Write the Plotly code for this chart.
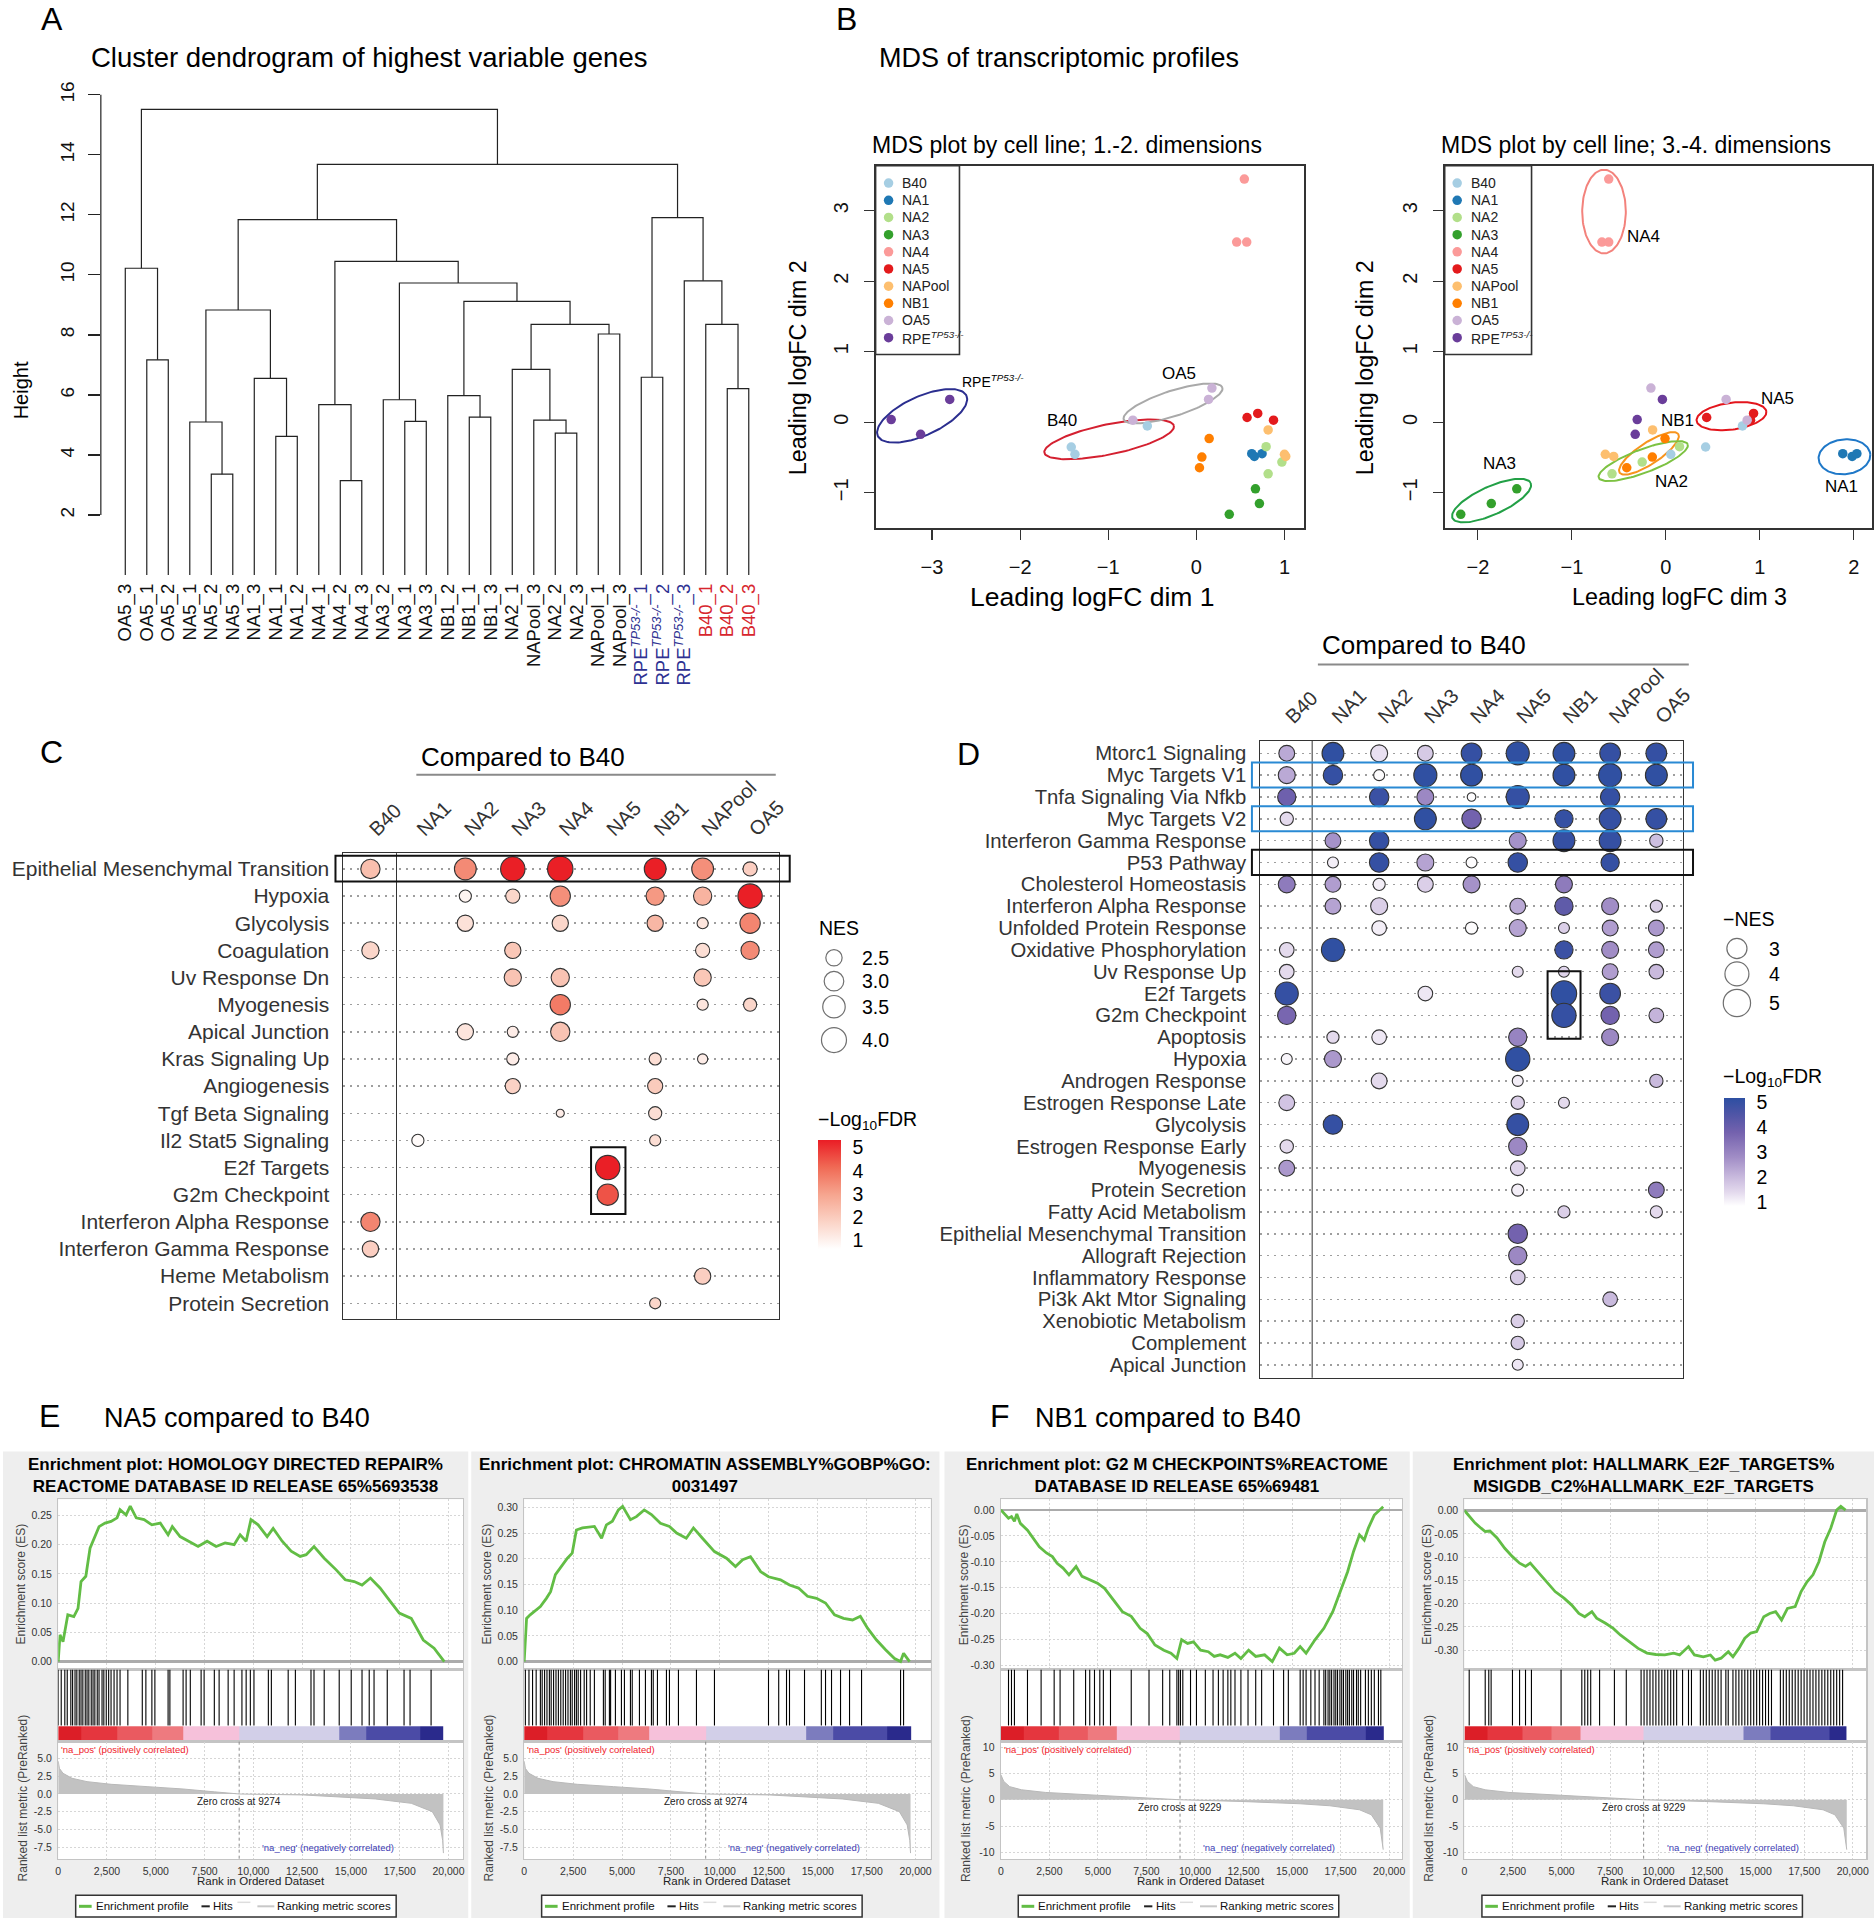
import math
import plotly.graph_objects as go

W, H = 1874, 1920          # reference coordinate frame (px)
FIG_W = 1886               # rendered page width (the photo is resized back to 1874)
FONT = "Liberation Sans, Arial, Helvetica, sans-serif"

# ======================= DATA =======================
# ---- A: dendrogram ----
LEAF_LABELS = ["OA5_3", "OA5_1", "OA5_2", "NA5_1", "NA5_2", "NA5_3", "NA1_3", "NA1_1", "NA1_2",
               "NA4_1", "NA4_2", "NA4_3", "NA3_2", "NA3_1", "NA3_3", "NB1_2", "NB1_1", "NB1_3",
               "NA2_1", "NAPool_3", "NA2_2", "NA2_3", "NAPool_1", "NAPool_3",
               "RPE_1", "RPE_2", "RPE_3", "B40_1", "B40_2", "B40_3"]
MERGE_A = [1, 0, 4, 3, 7, 6, 33, 10, 9, 13, 12, 16, 15, 20, 19, 18, 22, 45, 42, 40, 38, 36, 24, 28, 27, 26, 52, 51, 31]
MERGE_B = [2, 30, 5, 32, 8, 34, 35, 11, 37, 14, 39, 17, 41, 21, 43, 44, 23, 46, 47, 48, 49, 50, 25, 29, 53, 54, 55, 56, 57]
MERGE_H = [7.17, 10.22, 3.36, 5.10, 4.62, 6.55, 8.83, 3.15, 5.68, 5.12, 5.84, 5.26, 5.98, 4.73, 5.16, 6.85,
           8.03, 8.35, 9.12, 9.73, 10.45, 11.84, 6.59, 6.21, 8.35, 9.80, 11.91, 13.68, 15.51]
HEIGHT_TICKS = [2, 4, 6, 8, 10, 12, 14, 16]

# ---- B: MDS ----
MDS_GROUPS = ["B40", "NA1", "NA2", "NA3", "NA4", "NA5", "NAPool", "NB1", "OA5", "RPE"]
MDS_SAMPLE_GROUP = ["B40", "B40", "B40", "NA1", "NA1", "NA1", "NA2", "NA2", "NA2", "NA3", "NA3", "NA3",
                    "NA4", "NA4", "NA4", "NA5", "NA5", "NA5", "NAPool", "NAPool", "NAPool",
                    "NB1", "NB1", "NB1", "OA5", "OA5", "OA5", "RPE", "RPE", "RPE"]
MDS_DIM1 = [-1.420, -1.378, -0.557, 0.628, 0.658, 0.745, 0.791, 0.970, 0.814, 0.670, 0.715, 0.373,
            0.544, 0.457, 0.571, 0.575, 0.696, 0.875, 0.814, 0.999, 1.014, 0.145, 0.062, 0.035,
            0.176, 0.138, -0.721, -3.463, -2.799, -3.129]
MDS_DIM2 = [-0.350, -0.454, -0.051, -0.445, -0.483, -0.445, -0.345, -0.563, -0.730, -0.943, -1.152, -1.304,
            3.446, 2.554, 2.554, 0.068, 0.125, 0.030, -0.108, -0.454, -0.483, -0.231, -0.492, -0.644,
            0.485, 0.324, 0.030, 0.039, 0.324, -0.170]
MDS_DIM3 = [0.423, 0.052, 0.815, 1.882, 1.982, 2.032, 0.145, -0.252, -0.573, -1.586, -1.857, -2.182,
            -0.608, -0.680, -0.608, 0.434, 0.933, 0.901, -0.141, -0.644, -0.555, -0.009, -0.144, -0.416,
            -0.159, 0.641, 0.865, -0.305, -0.037, -0.326]

# ---- C: red dot plot ----
SAMPLES = ["B40", "NA1", "NA2", "NA3", "NA4", "NA5", "NB1", "NAPool", "OA5"]
C_PATHWAYS = ["Epithelial Mesenchymal Transition", "Hypoxia", "Glycolysis", "Coagulation", "Uv Response Dn",
              "Myogenesis", "Apical Junction", "Kras Signaling Up", "Angiogenesis", "Tgf Beta Signaling",
              "Il2 Stat5 Signaling", "E2f Targets", "G2m Checkpoint", "Interferon Alpha Response",
              "Interferon Gamma Response", "Heme Metabolism", "Protein Secretion"]
C_ROW = [0, 0, 0, 0, 0, 0, 0, 1, 1, 1, 1, 1, 1, 2, 2, 2, 2, 2, 3, 3, 3, 3, 4, 4, 4, 5, 5, 5, 6, 6, 6,
         7, 7, 7, 8, 8, 9, 9, 10, 10, 11, 12, 13, 14, 15, 16]
C_COL = ["B40", "NA2", "NA3", "NA4", "NB1", "NAPool", "OA5",
         "NA2", "NA3", "NA4", "NB1", "NAPool", "OA5",
         "NA2", "NA4", "NB1", "NAPool", "OA5",
         "B40", "NA3", "NAPool", "OA5",
         "NA3", "NA4", "NAPool",
         "NA4", "NAPool", "OA5",
         "NA2", "NA3", "NA4",
         "NA3", "NB1", "NAPool",
         "NA3", "NB1",
         "NA4", "NB1",
         "NA1", "NB1",
         "NA5", "NA5", "B40", "B40", "NAPool", "NB1"]
C_NES = [2.95, 3.38, 3.88, 4.09, 3.38, 3.38, 2.23,
         2.00, 2.23, 3.12, 2.79, 2.79, 3.88,
         2.50, 2.50, 2.50, 1.90, 3.12,
         2.64, 2.50, 2.23, 2.79,
         2.64, 2.79, 2.64,
         3.12, 1.90, 2.11,
         2.50, 1.90, 2.95,
         2.00, 2.00, 1.81,
         2.35, 2.35,
         1.64, 2.11,
         2.00, 1.90,
         3.88, 3.29, 2.95, 2.50, 2.50, 1.90]
C_LOGFDR = [2.3, 3.5, 5.3, 5.3, 5.3, 3.4, 1.9,
            0.9, 1.7, 3.4, 3.2, 2.6, 5.3,
            1.4, 1.7, 2.5, 1.3, 3.6,
            1.7, 2.1, 1.5, 3.5,
            2.2, 2.2, 2.1,
            3.8, 1.3, 1.7,
            1.3, 1.1, 2.2,
            1.1, 1.5, 1.1,
            1.8, 2.0,
            1.1, 1.5,
            0.7, 1.5,
            5.3, 4.5, 3.6, 1.9, 1.9, 1.7]
C_NES_LEGEND = [2.5, 3.0, 3.5, 4.0]

# ---- D: blue dot plot ----
D_PATHWAYS = ["Mtorc1 Signaling", "Myc Targets V1", "Tnfa Signaling Via Nfkb", "Myc Targets V2",
              "Interferon Gamma Response", "P53 Pathway", "Cholesterol Homeostasis", "Interferon Alpha Response",
              "Unfolded Protein Response", "Oxidative Phosphorylation", "Uv Response Up", "E2f Targets",
              "G2m Checkpoint", "Apoptosis", "Hypoxia", "Androgen Response", "Estrogen Response Late",
              "Glycolysis", "Estrogen Response Early", "Myogenesis", "Protein Secretion", "Fatty Acid Metabolism",
              "Epithelial Mesenchymal Transition", "Allograft Rejection", "Inflammatory Response",
              "Pi3k Akt Mtor Signaling", "Xenobiotic Metabolism", "Complement", "Apical Junction"]
D_ROW = [0] * 9 + [1] * 8 + [2] * 6 + [3] * 6 + [4] * 6 + [5] * 6 + [6] * 6 + [7] * 6 + [8] * 6 + [9] * 5 + \
        [10] * 5 + [11] * 4 + [12] * 4 + [13] * 4 + [14] * 3 + [15] * 3 + [16] * 3 + [17] * 2 + [18] * 2 + \
        [19] * 2 + [20] * 2 + [21] * 2 + [22, 23, 24, 25, 26, 27, 28]
D_COL = ["B40", "NA1", "NA2", "NA3", "NA4", "NA5", "NB1", "NAPool", "OA5",
         "B40", "NA1", "NA2", "NA3", "NA4", "NB1", "NAPool", "OA5",
         "B40", "NA2", "NA3", "NA4", "NA5", "NAPool",
         "B40", "NA3", "NA4", "NB1", "NAPool", "OA5",
         "NA1", "NA2", "NA5", "NB1", "NAPool", "OA5",
         "NA1", "NA2", "NA3", "NA4", "NA5", "NAPool",
         "B40", "NA1", "NA2", "NA3", "NA4", "NB1",
         "NA1", "NA2", "NA5", "NB1", "NAPool", "OA5",
         "NA2", "NA4", "NA5", "NB1", "NAPool", "OA5",
         "B40", "NA1", "NB1", "NAPool", "OA5",
         "B40", "NA5", "NB1", "NAPool", "OA5",
         "B40", "NA3", "NB1", "NAPool",
         "B40", "NB1", "NAPool", "OA5",
         "NA1", "NA2", "NA5", "NAPool",
         "B40", "NA1", "NA5",
         "NA2", "NA5", "OA5",
         "B40", "NA5", "NB1",
         "NA1", "NA5",
         "B40", "NA5",
         "B40", "NA5",
         "NA5", "OA5",
         "NB1", "OA5",
         "NA5", "NA5", "NA5", "NAPool", "NA5", "NA5", "NA5"]
D_NES = [2.10, 3.44, 2.32, 2.10, 3.15, 3.76, 3.44, 3.15, 3.15,
         2.32, 2.86, 1.31, 3.76, 3.44, 3.44, 3.76, 3.44,
         2.59, 2.86, 2.32, 1.02, 3.76, 2.86,
         1.66, 3.44, 2.86, 2.59, 3.44, 3.15,
         2.10, 2.86, 2.32, 3.44, 3.44, 1.66,
         1.31, 2.86, 2.32, 1.31, 2.86, 2.59,
         2.32, 2.10, 1.48, 2.10, 2.32, 2.32,
         2.10, 2.32, 2.10, 2.59, 2.32, 1.48,
         1.88, 1.48, 2.32, 1.31, 2.10, 2.10,
         1.88, 3.76, 2.59, 2.32, 2.10,
         1.88, 1.31, 1.31, 2.10, 1.88,
         3.76, 1.88, 4.44, 3.15,
         2.59, 4.10, 2.59, 1.88,
         1.48, 1.88, 2.59, 2.32,
         1.31, 2.32, 4.10,
         2.10, 1.31, 1.66,
         2.10, 1.66, 1.31,
         2.86, 3.44,
         1.66, 2.59,
         2.10, 1.88,
         1.48, 2.10,
         1.48, 1.48,
         2.86, 2.59, 1.88, 1.88, 1.66, 1.66, 1.31]
D_LOGFDR = [2.3, 5.1, 1.3, 1.7, 5.0, 5.1, 5.1, 5.0, 5.0,
            2.3, 5.0, 0.9, 5.1, 5.1, 5.1, 5.1, 5.1,
            3.9, 4.9, 2.9, 0.9, 5.0, 5.0,
            1.4, 5.1, 3.8, 5.0, 5.0, 5.0,
            2.7, 5.0, 2.7, 5.0, 5.0, 1.9,
            1.1, 5.0, 2.4, 0.9, 5.0, 5.0,
            3.2, 2.5, 1.1, 1.6, 2.7, 3.2,
            2.4, 1.6, 2.3, 4.2, 2.8, 1.6,
            1.1, 0.9, 2.4, 1.6, 2.5, 2.6,
            1.4, 5.1, 4.9, 2.8, 2.5,
            1.4, 1.4, 1.5, 2.5, 2.0,
            5.0, 1.2, 5.1, 4.9,
            3.7, 5.0, 3.8, 2.1,
            1.4, 1.2, 3.0, 2.9,
            1.0, 2.6, 5.1,
            1.4, 1.1, 2.0,
            1.8, 1.6, 1.4,
            5.0, 5.0,
            1.4, 2.9,
            2.6, 1.5,
            1.1, 3.2,
            1.6, 1.4,
            3.8, 2.9, 1.7, 2.0, 1.6, 1.7, 1.2]
D_NES_LEGEND = [3, 4, 5]

# ---- E / F: GSEA ----
E1_ES_RANK = [0, 92, 246, 492, 800, 1015, 1169, 1415, 1631, 1846, 2092, 2400, 2708, 3015, 3169, 3477, 3692, 4000,
              4400, 4800, 5231, 5631, 5846, 6246, 6708, 7169, 7631, 8092, 8554, 9015, 9323, 9631, 9877, 10246,
              10708, 11015, 11477, 11938, 12400, 12708, 13108, 13631, 14246, 14708, 15169, 15569, 16000, 16492,
              17015, 17477, 18092, 18708, 19262, 19785]
E1_ES = [0, 0.046, 0.034, 0.080, 0.077, 0.091, 0.137, 0.146, 0.194, 0.211, 0.231, 0.237, 0.240, 0.246, 0.260,
         0.251, 0.266, 0.246, 0.243, 0.234, 0.237, 0.217, 0.231, 0.214, 0.206, 0.197, 0.206, 0.197, 0.203, 0.200,
         0.217, 0.206, 0.243, 0.234, 0.214, 0.228, 0.206, 0.189, 0.180, 0.183, 0.197, 0.177, 0.157, 0.140, 0.137,
         0.131, 0.143, 0.126, 0.103, 0.083, 0.074, 0.037, 0.023, 0.0]
E1_HITS = [0, 154, 338, 462, 646, 738, 862, 954, 1077, 1169, 1262, 1385, 1477, 1569, 1692, 1785, 1877, 2000, 2092,
           2246, 2338, 2462, 2585, 2708, 2862, 3015, 3169, 3569, 4308, 4492, 4800, 4954, 5631, 5723, 6400, 6554,
           6769, 7323, 7477, 8000, 8246, 8708, 9015, 9415, 9631, 9846, 10031, 10769, 10923, 11785, 12154, 12954,
           13108, 13631, 14400, 15015, 15569, 15938, 16185, 16862, 17723, 18031, 19108]

E2_ES_RANK = [0, 123, 307, 521, 828, 1135, 1350, 1595, 1902, 2208, 2454, 2668, 2975, 3588, 3956, 4202, 4508, 4815,
              5030, 5429, 5735, 6134, 6502, 6962, 7422, 7790, 8281, 8649, 9109, 9722, 10336, 10796, 11164, 11563,
              12084, 12483, 13096, 13556, 14016, 14476, 14936, 15396, 15856, 16316, 16776, 17175, 17543, 18003,
              18463, 18923, 19230, 19384, 19690]
E2_ES = [0, 0.084, 0.091, 0.097, 0.107, 0.123, 0.136, 0.169, 0.185, 0.201, 0.211, 0.256, 0.260, 0.263, 0.240,
         0.266, 0.273, 0.295, 0.302, 0.276, 0.282, 0.295, 0.286, 0.269, 0.263, 0.250, 0.240, 0.260, 0.240, 0.214,
         0.201, 0.185, 0.198, 0.204, 0.175, 0.165, 0.159, 0.149, 0.143, 0.127, 0.123, 0.114, 0.091, 0.084, 0.081,
         0.088, 0.065, 0.042, 0.023, 0.006, 0.0, 0.016, 0.0]
E2_HITS = [61, 245, 429, 613, 828, 920, 1043, 1165, 1288, 1380, 1503, 1626, 1748, 1871, 1994, 2116, 2239, 2362,
           2454, 2576, 2668, 2760, 2883, 3067, 3190, 3374, 3588, 4048, 4140, 4355, 4416, 4662, 4969, 5122, 5429,
           5521, 5889, 6195, 6502, 6594, 6809, 7269, 7422, 7882, 8802, 9722, 12483, 13004, 13403, 13556, 14323,
           15182, 15396, 15703, 16163, 16623, 17237, 19230, 19384]

F1_ES_RANK = [0, 153, 397, 550, 702, 824, 1007, 1374, 1679, 1984, 2351, 2656, 2900, 3206, 3511, 3877, 4183, 4580,
              4976, 5343, 5801, 6259, 6717, 7175, 7541, 7938, 8396, 8762, 9068, 9312, 9617, 9923, 10289, 10686,
              10991, 11297, 11693, 12060, 12365, 12761, 13127, 13585, 13982, 14348, 14745, 15111, 15416, 15722,
              16180, 16638, 17096, 17493, 17860, 18165, 18470, 18715, 18928, 19234, 19539, 19692]
F1_ES = [0, -0.006, -0.016, -0.013, -0.022, -0.008, -0.026, -0.039, -0.055, -0.071, -0.083, -0.090, -0.103,
         -0.112, -0.125, -0.109, -0.128, -0.135, -0.141, -0.151, -0.173, -0.196, -0.205, -0.228, -0.238, -0.260,
         -0.270, -0.276, -0.286, -0.250, -0.257, -0.254, -0.270, -0.273, -0.282, -0.279, -0.284, -0.276, -0.286,
         -0.270, -0.282, -0.279, -0.292, -0.266, -0.279, -0.276, -0.263, -0.276, -0.250, -0.228, -0.196, -0.157,
         -0.119, -0.080, -0.048, -0.058, -0.035, -0.010, 0.0, 0.006]
F1_HITS = [397, 550, 702, 1374, 2076, 2748, 3053, 3755, 4366, 4580, 4824, 5099, 5282, 5648, 6717, 7633, 8335, 8701,
           9068, 9159, 9251, 9373, 9770, 10075, 10533, 10930, 11205, 11449, 11693, 11846, 12060, 12365, 12731,
           13127, 13432, 14043, 14563, 14807, 15416, 15569, 15722, 15966, 16180, 16394, 16638, 16730, 16853,
           16944, 17036, 17158, 17249, 17341, 17463, 17555, 17646, 17768, 17860, 17951, 18073, 18165, 18318,
           18409, 18531, 18776, 18928, 19081, 19234, 19448, 19570]

F2_ES_RANK = [0, 244, 550, 855, 1069, 1313, 1679, 2076, 2473, 2839, 3145, 3389, 3755, 4213, 4671, 5129, 5526, 5892,
              6198, 6564, 6808, 7266, 7663, 8029, 8487, 8945, 9403, 9861, 10319, 10777, 11082, 11540, 11846, 12304,
              12670, 12914, 13219, 13586, 13830, 14135, 14441, 14746, 15051, 15418, 15723, 16028, 16334, 16639,
              17036, 17341, 17646, 17952, 18257, 18562, 18868, 19173, 19387, 19631]
F2_ES = [0, -0.013, -0.027, -0.038, -0.045, -0.044, -0.059, -0.081, -0.099, -0.113, -0.120, -0.113, -0.131,
         -0.153, -0.174, -0.188, -0.203, -0.221, -0.228, -0.217, -0.231, -0.242, -0.253, -0.267, -0.281, -0.296,
         -0.306, -0.309, -0.310, -0.306, -0.310, -0.292, -0.310, -0.314, -0.310, -0.321, -0.317, -0.303, -0.314,
         -0.296, -0.274, -0.263, -0.260, -0.228, -0.221, -0.217, -0.235, -0.210, -0.206, -0.174, -0.153, -0.138,
         -0.110, -0.067, -0.038, 0.001, 0.009, 0.001]
F2_HITS = [244, 1069, 1252, 1374, 2473, 2839, 3145, 3450, 4976, 6045, 6198, 6350, 6503, 6961, 7724, 8335, 9098,
           9251, 9403, 9556, 9709, 9861, 10014, 10167, 10319, 10472, 10624, 10777, 10930, 11235, 11540, 11693,
           12151, 12304, 12456, 12609, 12762, 12914, 13067, 13219, 13464, 13586, 13830, 13983, 14135, 14288,
           14441, 14593, 14746, 14899, 15051, 15204, 15357, 15509, 15662, 15815, 16273, 16425, 16578, 16731,
           16883, 17036, 17189, 17341, 17494, 17646, 17799, 17952, 18104, 18257, 18410, 18562, 18715, 18868,
           19020, 19173, 19326, 19478]

E_METRIC_RANK = [0, 60, 246, 708, 1477, 2708, 4554, 6400, 8000, 9274, 12554, 14400, 16246, 18092, 19169, 19569,
                 19700, 19740]
E_METRIC = [4.6, 3.6, 2.9, 2.2, 1.73, 1.36, 1.03, 0.70, 0.30, 0.0, -0.14, -0.37, -0.70, -1.31, -2.48, -4.35,
            -6.5, -8.3]
F_METRIC_RANK = [0, 153, 458, 1069, 2290, 4732, 7175, 9229, 12365, 15416, 16944, 18470, 19081, 19539, 19692]
F_METRIC = [4.8, 3.5, 2.5, 1.9, 1.4, 0.95, 0.5, 0.0, -0.32, -0.76, -1.14, -1.9, -2.86, -5.4, -9.5]

E_BAND_EDGES = [0, 1200, 3000, 4800, 6400, 9274, 14400, 15800, 18550, 19750]
F_BAND_EDGES = [0, 1200, 3000, 4500, 5950, 9229, 14350, 15780, 18775, 19700]
BAND_LEVELS = [5, 4.2, 3.4, 2.6, 0.6, -0.6, -2.5, -3.5, -5]

RANK_TICKS = [0, 2500, 5000, 7500, 10000, 12500, 15000, 17500, 20000]

# ======================= STYLE / HELPERS =======================
MDS_COLORS = {"B40": "#A6CEE3", "NA1": "#1F78B4", "NA2": "#B2DF8A", "NA3": "#33A02C", "NA4": "#FB9A99",
              "NA5": "#E31A1C", "NAPool": "#FDBF6F", "NB1": "#FF7F00", "OA5": "#CAB2D6", "RPE": "#6A3D9A"}
RPE_HTML = "RPE<sup><i>TP53-/-</i></sup>"

traces, shapes, annotations = [], [], []
layout = dict(width=FIG_W, height=H, margin=dict(l=0, r=0, t=0, b=0), autosize=False,
              paper_bgcolor="white", plot_bgcolor="rgba(0,0,0,0)", hovermode=False,
              font=dict(family=FONT, color="black", size=14), showlegend=False)
AX = {"n": 0}


def add_axes(x0, x1, y0, y1, xr, yr, xkw=None, ykw=None):
    AX["n"] += 1
    i = AX["n"]
    sx = "" if i == 1 else str(i)
    base = dict(showgrid=False, zeroline=False, showticklabels=False, ticks="", showline=False, fixedrange=True)
    xa = dict(base, domain=[x0 / W, x1 / W], range=list(xr), anchor="y" + sx)
    ya = dict(base, domain=[1 - y1 / H, 1 - y0 / H], range=list(yr), anchor="x" + sx)
    if xkw:
        xa.update(xkw)
    if ykw:
        ya.update(ykw)
    layout["xaxis" + sx] = xa
    layout["yaxis" + sx] = ya
    return dict(x="x" + sx, y="y" + sx, x0=x0, x1=x1, y0=y0, y1=y1, xr=xr, yr=yr)


def dpx(ax, xv, yv):
    px = ax["x0"] + (xv - ax["xr"][0]) / (ax["xr"][1] - ax["xr"][0]) * (ax["x1"] - ax["x0"])
    py = ax["y1"] - (yv - ax["yr"][0]) / (ax["yr"][1] - ax["yr"][0]) * (ax["y1"] - ax["y0"])
    return px, py


def P(px, py):
    return px / W, 1 - py / H


def line_px(x0, y0, x1, y1, color="black", width=1, dash="solid"):
    a, b = P(x0, y0)
    c, d = P(x1, y1)
    shapes.append(dict(type="line", xref="paper", yref="paper", x0=a, y0=b, x1=c, y1=d,
                       line=dict(color=color, width=width, dash=dash), layer="above"))


def rect_px(x0, y0, x1, y1, color=None, width=1, fill=None, layer="above"):
    a, b = P(x0, y1)
    c, d = P(x1, y0)
    shapes.append(dict(type="rect", xref="paper", yref="paper", x0=a, y0=b, x1=c, y1=d,
                       line=dict(color=color or "rgba(0,0,0,0)", width=width if color else 0),
                       fillcolor=fill or "rgba(0,0,0,0)", layer=layer))


def text_px(text, px, py, size, color="black", xa="center", ya="middle", angle=0, bold=False):
    a, b = P(px, py)
    fnt = dict(family=FONT, size=size, color=color)
    if bold:
        fnt["weight"] = "bold"
    annotations.append(dict(text=text, x=a, y=b, xref="paper", yref="paper",
                            showarrow=False, font=fnt, xanchor=xa, yanchor=ya, textangle=angle, borderpad=0))


def text_data(ax, text, xv, yv, size, xa="center", ya="middle", color="black"):
    annotations.append(dict(text=text, x=xv, y=yv, xref=ax["x"], yref=ax["y"], showarrow=False,
                            font=dict(family=FONT, size=size, color=color), xanchor=xa, yanchor=ya, borderpad=0))


def size_c(nes):
    return math.sqrt(max(251 * nes - 328.5, 4)) - 1.0


def size_d(nes):
    return math.sqrt(max(178 * nes - 89, 4)) - 1.0


# ======================= PANEL A =======================
def leaf_html(lbl):
    if lbl.startswith("RPE"):
        return "<span style='color:#2E3192'>%s%s</span>" % (RPE_HTML, lbl[3:])
    if lbl.startswith("B40"):
        return "<span style='color:#D7262E'>%s</span>" % lbl
    return lbl


H_PX = 30.07
axA = add_axes(98, 770, 575 - 16.5 * H_PX, 575, [-0.137, 31.07], [0, 16.5],
               xkw=dict(tickmode="array", tickvals=list(range(1, 31)), ticktext=[leaf_html(l) for l in LEAF_LABELS],
                        showticklabels=True, tickangle=-90, tickfont=dict(size=18.5, color="#111"),
                        ticklabelstandoff=4),
               ykw=dict(tickmode="array", tickvals=HEIGHT_TICKS, showticklabels=True, ticks="outside", ticklen=12,
                        tickwidth=1.2, tickcolor="#222", tickangle=-90, tickfont=dict(size=19, color="#111"),
                        ticklabelstandoff=6))
xpos = {i: i + 1 for i in range(len(LEAF_LABELS))}
hpos = {i: 0.0 for i in range(len(LEAF_LABELS))}
sx_, sy_ = [], []
for k, (a, b, h) in enumerate(zip(MERGE_A, MERGE_B, MERGE_H)):
    node = len(LEAF_LABELS) + k
    xa_, xb_ = xpos[a], xpos[b]
    sx_ += [xa_, xa_, xb_, xb_, None]
    sy_ += [hpos[a], h, h, hpos[b], None]
    xpos[node] = (xa_ + xb_) / 2
    hpos[node] = h
traces.append(go.Scatter(x=sx_, y=sy_, mode="lines", line=dict(color="#222", width=1.2),
                         xaxis=axA["x"], yaxis=axA["y"], showlegend=False))
p2 = dpx(axA, 0, 2)
p16 = dpx(axA, 0, 16)
line_px(98, p2[1], 98, p16[1], "#222", 1.2)
text_px("Height", 18, 390, 20, angle=-90)
text_px("Cluster dendrogram of highest variable genes", 367, 57, 27.5)
text_px("A", 49, 18, 32)

# ======================= PANEL B =======================
text_px("B", 845, 18, 32)
text_px("MDS of transcriptomic profiles", 876, 57, 27, xa="left")


def mds_axes(x0, x1, xr, xticks):
    return add_axes(x0, x1, 165, 528, xr, [-1.50, 3.635],
                    xkw=dict(tickmode="array", tickvals=xticks, showticklabels=True, ticks="outside", ticklen=10,
                             tickwidth=1.2, tickcolor="#333", tickfont=dict(size=20, color="#111"), showline=True,
                             mirror=True, linecolor="#333", linewidth=1.6, ticklabelstandoff=10),
                    ykw=dict(tickmode="array", tickvals=[-1, 0, 1, 2, 3], showticklabels=True, ticks="outside",
                             ticklen=10, tickwidth=1.2, tickcolor="#333", tickangle=-90,
                             tickfont=dict(size=20, color="#111"), showline=True, mirror=True, linecolor="#333",
                             linewidth=1.6, ticklabelstandoff=8))


axB1 = mds_axes(874, 1303, [-3.64, 1.22], [-3, -2, -1, 0, 1])
axB2 = mds_axes(1444, 1872, [-2.353, 2.193], [-2, -1, 0, 1, 2])


def ellipse_xy(cx, cy, ux, uy, vx, vy, n=120):
    xs, ys = [], []
    for k in range(n + 1):
        t = 2 * math.pi * k / n
        xs.append(cx + ux * math.cos(t) + vx * math.sin(t))
        ys.append(cy + uy * math.cos(t) + vy * math.sin(t))
    return xs, ys


ELLIPSES_LEFT = [((-3.112, 0.0915, 0.503, 0.2845, 0.091, -0.251), "#2B2E8F"),
                 ((-0.990, -0.241, 0.735, 0.190, 0.0346, -0.209), "#D42030"),
                 ((-0.265, 0.267, 0.560, 0.2254, 0.0444, -0.1718), "#A9A9A9")]
ELLIPSES_RIGHT = [((-0.658, 2.986, 0.232, 0.0, 0.0, 0.593), "#F3827C"),
                  ((0.698, 0.087, 0.371, 0.0664, 0.0189, -0.188), "#E3151C"),
                  ((-0.180, -0.440, 0.312, 0.273, 0.0628, -0.127), "#F7941D"),
                  ((-0.241, -0.549, 0.473, 0.237, 0.0442, -0.156), "#7DC242"),
                  ((-1.854, -1.109, 0.416, 0.249, 0.0617, -0.182), "#22A046"),
                  ((1.900, -0.488, 0.275, 0.03, 0.01, -0.247), "#1F78C8")]
for ax, ells in ((axB1, ELLIPSES_LEFT), (axB2, ELLIPSES_RIGHT)):
    for prm, col in ells:
        ex, ey = ellipse_xy(*prm)
        traces.append(go.Scatter(x=ex, y=ey, mode="lines", line=dict(color=col, width=2),
                                 xaxis=ax["x"], yaxis=ax["y"], showlegend=False))

for ax, xdim in ((axB1, MDS_DIM1), (axB2, MDS_DIM3)):
    for g in MDS_GROUPS:
        idx = [i for i, s in enumerate(MDS_SAMPLE_GROUP) if s == g]
        traces.append(go.Scatter(x=[xdim[i] for i in idx], y=[MDS_DIM2[i] for i in idx], mode="markers",
                                 marker=dict(color=MDS_COLORS[g], size=9.5),
                                 xaxis=ax["x"], yaxis=ax["y"], showlegend=False))

for bx0, bx1, mx, tx in ((874, 958, 887, 899.5), (1444, 1531, 1456.5, 1469.5)):
    axL = add_axes(bx0, bx1, 165, 354, [bx0, bx1], [354, 165])
    ys = [182.4 + 17.2 * i for i in range(len(MDS_GROUPS))]
    traces.append(go.Scatter(x=[mx] * len(MDS_GROUPS), y=ys, mode="markers",
                             marker=dict(color=[MDS_COLORS[g] for g in MDS_GROUPS], size=9.5),
                             xaxis=axL["x"], yaxis=axL["y"], showlegend=False))
    rect_px(bx0, 165, bx1, 354, color="#333", width=1.6)
    for g, yy in zip(MDS_GROUPS, ys):
        text_px(RPE_HTML if g == "RPE" else g, tx, yy, 14, color="#222", xa="left")

text_data(axB1, RPE_HTML, -2.666, 0.590, 14, xa="left")
text_data(axB1, "B40", -1.526, 0.020, 17)
text_data(axB1, "OA5", -0.197, 0.694, 17)
text_data(axB2, "NA4", -0.426, 2.630, 17, xa="left")
text_data(axB2, "NA5", 1.001, 0.343, 17, xa="left")
text_data(axB2, "NB1", -0.062, 0.020, 17, xa="left")
text_data(axB2, "NA2", -0.127, -0.843, 17, xa="left")
text_data(axB2, "NA3", -1.961, -0.582, 17, xa="left")
text_data(axB2, "NA1", 1.679, -0.915, 17, xa="left")

text_px("MDS plot by cell line; 1.-2. dimensions", 1066, 144, 23)
text_px("MDS plot by cell line; 3.-4. dimensions", 1636, 144, 23)
text_px("Leading logFC dim 1", 1091, 597, 26.5)
text_px("Leading logFC dim 3", 1679, 597, 23.3)
text_px("Leading logFC dim 2", 797, 367, 23.3, angle=-90)
text_px("Leading logFC dim 2", 1365, 367, 23.3, angle=-90)

# ======================= DOT PLOT helper =======================
GRID_DOT = "2px,5px"


def dot_panel(x0, x1, y0, y1, xr, yr, pathways, rows, cols, nes, lfdr, size_fn, caxis, lab_size):
    ax = add_axes(x0, x1, y0, y1, xr, yr,
                  xkw=dict(side="top", tickmode="array", tickvals=list(range(len(SAMPLES))), ticktext=SAMPLES,
                           showticklabels=True, tickangle=-45, tickfont=dict(size=20, color="#333"),
                           showline=True, mirror=True, linecolor="#333", linewidth=1, ticklabelstandoff=4),
                  ykw=dict(tickmode="array", tickvals=list(range(len(pathways))), ticktext=pathways,
                           showticklabels=True, tickfont=dict(size=lab_size, color="#333"), showgrid=True,
                           gridcolor="#9E9E9E", gridwidth=1.5, griddash=GRID_DOT, showline=True, mirror=True,
                           linecolor="#333", linewidth=1, ticklabelstandoff=9))
    traces.append(go.Scatter(x=[SAMPLES.index(c) for c in cols], y=rows, mode="markers",
                             marker=dict(size=[size_fn(v) for v in nes], color=lfdr, coloraxis=caxis,
                                         line=dict(color="#333", width=1.1), opacity=1),
                             xaxis=ax["x"], yaxis=ax["y"], showlegend=False))
    xs, _ = dpx(ax, 0.55, 0)
    line_px(xs, y0, xs, y1, "#333", 1)
    return ax


def rect_data(ax, xa, xb, ya, yb, color, width):
    p0 = dpx(ax, xa, ya)
    p1 = dpx(ax, xb, yb)
    rect_px(min(p0[0], p1[0]), min(p0[1], p1[1]), max(p0[0], p1[0]), max(p0[1], p1[1]), color=color, width=width)


# ======================= PANEL C =======================
axC = dot_panel(341, 777, 853.5, 1320, [-0.568, 8.604], [16.577, -0.581], C_PATHWAYS, C_ROW, C_COL, C_NES,
                C_LOGFDR, size_c, "coloraxis", 21)
rect_data(axC, -0.736, 8.835, -0.489, 0.467, "#111", 2)
rect_data(axC, 4.649, 5.374, 10.25, 12.71, "#111", 2)
text_px("C", 48.5, 752, 32)
text_px("Compared to B40", 521, 757, 26)
line_px(414, 775, 774, 775, "#8A8A8A", 2)

axCL = add_axes(805, 862, 940, 1060, [805, 862], [1060, 940])
CL_Y = [958.3, 981.7, 1007.3, 1040.7]
traces.append(go.Scatter(x=[832.3] * len(C_NES_LEGEND), y=CL_Y, mode="markers",
                         marker=dict(size=[size_c(v) for v in C_NES_LEGEND], color="white",
                                     line=dict(color="#333", width=1.2)),
                         xaxis=axCL["x"], yaxis=axCL["y"], showlegend=False))
text_px("NES", 816.5, 928, 19.5, xa="left")
for v, yy in zip(C_NES_LEGEND, CL_Y):
    text_px("%.1f" % v, 859, yy, 19.5, xa="left")
text_px("\u2212Log<sub>10</sub>FDR", 815, 1121.7, 19.5, xa="left")

# ======================= PANEL D =======================
axD = dot_panel(1259.3, 1682.5, 740.8, 1378.9, [-0.573, 8.573], [28.594, -0.581], D_PATHWAYS, D_ROW, D_COL,
                D_NES, D_LOGFDR, size_d, "coloraxis2", 20.3)
rect_data(axD, -0.754, 8.794, 0.42, 1.57, "#2A8AD4", 2)
rect_data(axD, -0.754, 8.794, 2.42, 3.57, "#2A8AD4", 2)
rect_data(axD, -0.754, 8.794, 4.42, 5.57, "#111", 2)
rect_data(axD, 5.646, 6.359, 9.977, 13.07, "#111", 2)
text_px("D", 967, 754, 32)
text_px("Compared to B40", 1423.5, 645.5, 26)
line_px(1317, 664.5, 1688.5, 664.5, "#8A8A8A", 2)

axDL = add_axes(1715, 1760, 930, 1020, [1715, 1760], [1020, 930])
DL_Y = [949, 974.4, 1003.5]
traces.append(go.Scatter(x=[1736.7] * len(D_NES_LEGEND), y=DL_Y, mode="markers",
                         marker=dict(size=[size_d(v) for v in D_NES_LEGEND], color="white",
                                     line=dict(color="#333", width=1.2)),
                         xaxis=axDL["x"], yaxis=axDL["y"], showlegend=False))
text_px("\u2212NES", 1722, 919, 19.5, xa="left")
for v, yy in zip(D_NES_LEGEND, DL_Y):
    text_px(str(v), 1768, yy, 19.5, xa="left")
text_px("\u2212Log<sub>10</sub>FDR", 1722, 1078.4, 19.5, xa="left")

CB_COMMON = dict(xanchor="left", yanchor="middle", lenmode="pixels", thicknessmode="pixels", xpad=0, ypad=0,
                 outlinewidth=0, tickvals=[1, 2, 3, 4, 5], ticks="outside", ticklen=8,
                 tickcolor="rgba(0,0,0,0)", tickfont=dict(size=19.5, family=FONT))
layout["coloraxis"] = dict(cmin=0.6, cmax=5.33,
                           colorscale=[[0, "#FFFFFF"], [0.25, "#FBD3C6"], [0.5, "#F6A58F"], [0.75, "#F06A55"],
                                       [1, "#EA1D25"]],
                           colorbar=dict(CB_COMMON, x=816.7 / W, y=1 - 1195.4 / H, len=109.3, thickness=22.6))
layout["coloraxis2"] = dict(cmin=0.85, cmax=5.16,
                            colorscale=[[0, "#FFFFFF"], [0.13, "#E3D9ED"], [0.27, "#C8B9DD"], [0.45, "#A18DC6"],
                                        [0.68, "#7462AE"], [0.85, "#4F55A6"], [1, "#2D4FA2"]],
                            colorbar=dict(CB_COMMON, x=1723.5 / W, y=1 - 1153.2 / H, len=107.6, thickness=20.5))

# ======================= PANELS E / F (GSEA) =======================
BAND_SCALE = [[0, "#2A2A8C"], [0.15, "#4B4BA6"], [0.25, "#7C7CBE"], [0.44, "#D2CFE8"], [0.56, "#F6C1DA"],
              [0.76, "#EE7A7F"], [0.84, "#EA5A60"], [0.92, "#E5363E"], [1, "#DC1E27"]]
GRID_C = "#D6D6D6"
FRAME_C = "#C4C4C4"
TICKF = dict(size=10.5, color="#333", family=FONT)

GSEA = [
    dict(panel=(0, 466), left=55.3, scale=0.019545, right=461,
         title="Enrichment plot: HOMOLOGY DIRECTED REPAIR%<br>REACTOME DATABASE ID RELEASE 65%5693538",
         es=(E1_ES_RANK, E1_ES), hits=E1_HITS, metric=(E_METRIC_RANK, E_METRIC), bands=E_BAND_EDGES,
         zero=9274, es_range=[-0.0133, 0.278], es_ticks=[0, 0.05, 0.10, 0.15, 0.20, 0.25],
         met_range=[-9.14, 7.34], met_ticks=[-7.5, -5.0, -2.5, 0.0, 2.5, 5.0], met_fmt="%.1f", neg_y=-7.5),
    dict(panel=(469, 938), left=522, scale=0.019605, right=929.2,
         title="Enrichment plot: CHROMATIN ASSEMBLY%GOBP%GO:<br>0031497",
         es=(E2_ES_RANK, E2_ES), hits=E2_HITS, metric=(E_METRIC_RANK, E_METRIC), bands=E_BAND_EDGES,
         zero=9274, es_range=[-0.0152, 0.316], es_ticks=[0, 0.05, 0.10, 0.15, 0.20, 0.25, 0.30],
         met_range=[-9.14, 7.34], met_ticks=[-7.5, -5.0, -2.5, 0.0, 2.5, 5.0], met_fmt="%.1f", neg_y=-7.5),
    dict(panel=(943, 1409), left=999.4, scale=0.01945, right=1401.4,
         title="Enrichment plot: G2 M CHECKPOINTS%REACTOME<br>DATABASE ID RELEASE 65%69481",
         es=(F1_ES_RANK, F1_ES), hits=F1_HITS, metric=(F_METRIC_RANK, F_METRIC), bands=F_BAND_EDGES,
         zero=9229, es_range=[-0.307, 0.0206], es_ticks=[-0.30, -0.25, -0.20, -0.15, -0.10, -0.05, 0.0],
         met_range=[-11.29, 11.06], met_ticks=[-10, -5, 0, 5, 10], met_fmt="%d", neg_y=-9.0),
    dict(panel=(1412, 1874), left=1463.8, scale=0.019445, right=1866.3,
         title="Enrichment plot: HALLMARK_E2F_TARGETS%<br>MSIGDB_C2%HALLMARK_E2F_TARGETS",
         es=(F2_ES_RANK, F2_ES), hits=F2_HITS, metric=(F_METRIC_RANK, F_METRIC), bands=F_BAND_EDGES,
         zero=9229, es_range=[-0.341, 0.0244], es_ticks=[-0.30, -0.25, -0.20, -0.15, -0.10, -0.05, 0.0],
         met_range=[-11.29, 11.06], met_ticks=[-10, -5, 0, 5, 10], met_fmt="%d", neg_y=-9.0),
]

Y_ES0, Y_ES1, Y_HIT1, Y_MET1 = 1500.5, 1671.0, 1743.4, 1861.0

for g in GSEA:
    L, R = g["left"], g["right"]
    rmax = (R - L) / g["scale"]
    rect_px(g["panel"][0], 1452.8, g["panel"][1], 1920, fill="#EEEEEE", layer="below")
    rect_px(L, Y_ES0, R, Y_MET1, fill="white", layer="below")
    frame = dict(showline=True, mirror=True, linecolor=FRAME_C, linewidth=1.2)
    xgrid = dict(tickmode="array", tickvals=RANK_TICKS, showgrid=True, gridcolor=GRID_C, griddash="2px,2px",
                 gridwidth=1)
    es_ax = add_axes(L, R, Y_ES0, Y_ES1, [0, rmax], g["es_range"],
                     xkw=dict(xgrid, **frame),
                     ykw=dict(frame, tickmode="array", tickvals=g["es_ticks"],
                              ticktext=["%.2f" % v for v in g["es_ticks"]], showticklabels=True, tickfont=TICKF,
                              showgrid=True, gridcolor=GRID_C, griddash="2px,2px", gridwidth=1, zeroline=True,
                              zerolinecolor="#ABABAB", zerolinewidth=2.5, ticklabelstandoff=3))
    hit_ax = add_axes(L, R, Y_ES1, Y_HIT1, [0, rmax], [0, 1], xkw=dict(frame), ykw=dict(frame))
    met_ax = add_axes(L, R, Y_HIT1, Y_MET1, [0, rmax], g["met_range"],
                      xkw=dict(xgrid, showticklabels=True, ticktext=["{:,}".format(v) for v in RANK_TICKS],
                               tickfont=TICKF, ticklabelstandoff=2, **frame),
                      ykw=dict(frame, tickmode="array", tickvals=g["met_ticks"],
                               ticktext=[g["met_fmt"] % v for v in g["met_ticks"]], showticklabels=True,
                               tickfont=TICKF, showgrid=True, gridcolor=GRID_C, griddash="2px,2px", gridwidth=1,
                               ticklabelstandoff=3))
    traces.append(go.Heatmap(x=g["bands"], y=[0, 0.213], z=[BAND_LEVELS], colorscale=BAND_SCALE, zmin=-5, zmax=5,
                             showscale=False, xaxis=hit_ax["x"], yaxis=hit_ax["y"]))
    hx, hy = [], []
    for r in g["hits"]:
        hx += [r, r, None]
        hy += [0.225, 1.0, None]
    traces.append(go.Scatter(x=hx, y=hy, mode="lines", line=dict(color="black", width=1.1),
                             xaxis=hit_ax["x"], yaxis=hit_ax["y"], showlegend=False))
    traces.append(go.Scatter(x=g["metric"][0], y=g["metric"][1], mode="lines", fill="tozeroy",
                             fillcolor="#C2C2C2", line=dict(color="#B8B8B8", width=1),
                             xaxis=met_ax["x"], yaxis=met_ax["y"], showlegend=False))
    traces.append(go.Scatter(x=g["es"][0], y=g["es"][1], mode="lines", line=dict(color="#62BD45", width=2.8),
                             xaxis=es_ax["x"], yaxis=es_ax["y"], showlegend=False))
    zx, zy = dpx(met_ax, g["zero"], 0)
    line_px(zx, Y_HIT1, zx, Y_MET1, "#8A8A8A", 1, "3px,3px")
    text_px("Zero cross at %d" % g["zero"], zx, zy + 1, 10, color="#222", ya="top")
    text_px("'na_pos' (positively correlated)", L + 2, Y_HIT1 + 1.5, 9.5, color="#F0202A", xa="left", ya="top")
    nx, ny = dpx(met_ax, 10370, g["neg_y"])
    text_px("'na_neg' (negatively correlated)", nx, ny, 9.5, color="#3C3CB4", xa="left")
    pc = (g["panel"][0] + g["panel"][1]) / 2
    text_px(g["title"], pc, 1476.7, 17, bold=True)
    text_px("Enrichment score (ES)", L - 37, (Y_ES0 + Y_ES1) / 2, 12, color="#444", angle=-90)
    text_px("Ranked list metric (PreRanked)", L - 35, 1800, 12, color="#444", angle=-90)
    text_px("Rank in Ordered Dataset", (L + R) / 2, 1882.7, 11.5, color="#222")
    bx = L + 17.5
    rect_px(bx, 1897.3, bx + 321, 1919, color="#333", width=1.5, fill="white")
    ly = 1908.3
    line_px(bx + 3.3, ly, bx + 16, ly, "#62BD45", 3)
    text_px("Enrichment profile", bx + 19, ly, 11.5, color="#111", xa="left")
    line_px(bx + 126, ly, bx + 134.3, ly, "#222", 2)
    text_px("Hits", bx + 136.5, ly, 11.5, color="#111", xa="left")
    line_px(bx + 162, ly - 4, bx + 175, ly - 4, "#DDDDDD", 1.5)
    line_px(bx + 182, ly, bx + 199, ly, "#C8C8C8", 2)
    text_px("Ranking metric scores", bx + 201, ly, 11.5, color="#111", xa="left")

text_px("E", 47, 1417.7, 32)
text_px("NA5 compared to B40", 234.5, 1419.4, 27)
text_px("F", 999, 1417.7, 32)
text_px("NB1 compared to B40", 1167, 1419.4, 27)

layout["shapes"] = shapes
layout["annotations"] = annotations
fig = go.Figure(data=traces, layout=layout)
fig.write_html("out.html", config=dict(displayModeBar=False, staticPlot=True),
               post_script="document.body.style.margin='0px';document.body.style.padding='0px';"
                           "document.documentElement.style.overflow='hidden';document.body.style.overflow='hidden';")
